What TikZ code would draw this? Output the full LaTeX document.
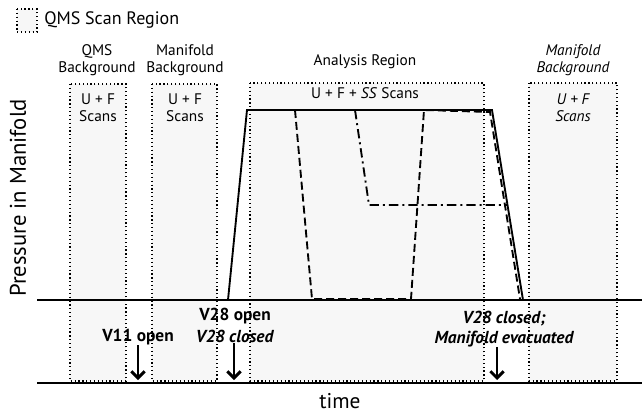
\documentclass[tikz,border=0pt]{standalone}
\usepackage{fontspec}
\setmainfont{PT Sans}
\usetikzlibrary{arrows.meta}
\tikzset{
  scanbox/.style={draw, dotted, line width=0.9pt, fill=black!3},
  trace/.style={line width=1.4pt, line join=miter},
  boxlbl/.style={inner sep=0.75pt, align=center, font=\fontsize{11.5}{13}\selectfont},
  valvelbl/.style={inner sep=0.75pt, align=center, font=\fontsize{13}{16.5}\selectfont\bfseries},
  valvearrow/.style={line width=2.2pt, -{Straight Barb[length=5pt,width=10pt]}},
}
\begin{document}
\begin{tikzpicture}[x=0.75pt,y=0.75pt,yscale=-1,xscale=1]
\useasboundingbox (0,0) rectangle (642,414);

%Scan regions
\path[scanbox] (70,84) rectangle (126,381);
\path[scanbox] (152,84) rectangle (217,381);
\path[scanbox] (250,83) rectangle (484,381);
\path[scanbox] (529,83) rectangle (617,381);
%Legend
\path[scanbox] (17,9) rectangle (37,32);
\draw (43,20) node [anchor=west][inner sep=0.75pt] (lgd) {\fontsize{13.5}{16}\selectfont QMS Scan Region};

%Axes
\draw [line width=1.4pt] (37,300) -- (642,300) ;
\draw [line width=1.4pt] (37,383) -- (642,383) ;

%Traces
\draw [trace] (37,300) -- (228,300) -- (247,110) -- (492,110) -- (523,300) -- (642,300) ;
\draw [trace, dashed, dash pattern=on 6pt off 3pt] (295,110) -- (312,299) -- (411,299) -- (424,110) -- (490,112) -- (520,299) ;
\draw [trace, dash pattern=on 7pt off 3pt on 1.5pt off 3pt] (355,110) -- (369,205) -- (507,205) ;

% Text Node
\draw (97,60) node [boxlbl] (qmsbg) {QMS\\Background};
\draw (185,60) node [boxlbl] (manbg) {Manifold\\Background};
\draw (98,108) node [boxlbl] (qmsscan) {U + F\\Scans};
\draw (185,108) node [boxlbl] (manscan) {U + F\\Scans};
\draw (365,62) node [boxlbl] (anareg) {Analysis Region};
\draw (365,93) node [boxlbl] (anascan) {U + F + \textit{SS} Scans};
\draw (573,60) node [boxlbl, font=\fontsize{11.5}{13}\selectfont\itshape] (manbgii) {Manifold\\Background};
\draw (573,108) node [boxlbl, font=\fontsize{11.5}{13}\selectfont\itshape] (manscanii) {U + F\\Scans};

% Axis labels
\draw (18,198) node [rotate=90][inner sep=0.75pt] (ylbl) {\fontsize{17}{19}\selectfont Pressure in Manifold};
\draw (340,401) node [inner sep=0.75pt] (xlbl) {\fontsize{16}{18}\selectfont time};

% Valves
\draw (138,337) node [valvelbl] (vii) {V11 open};
\draw (235,325) node [valvelbl] (viii) {V28 open\\\textit{V28 closed}};
\draw (504,329) node [valvelbl, font=\fontsize{13}{14.5}\selectfont\bfseries\itshape] (viv) {V28 closed;\\Manifold evacuated};
\coordinate (aii) at (138,380);
\coordinate (aiii) at (234,380);
\coordinate (aiv) at (497,380);
\draw [valvearrow] (vii.south -| aii) ++(0,-1) -- (aii);
\draw [valvearrow] (viii.south -| aiii) ++(0,-1) -- (aiii);
\draw [valvearrow] (viv.south -| aiv) ++(0,-1) -- (aiv);

\end{tikzpicture}
\end{document}
